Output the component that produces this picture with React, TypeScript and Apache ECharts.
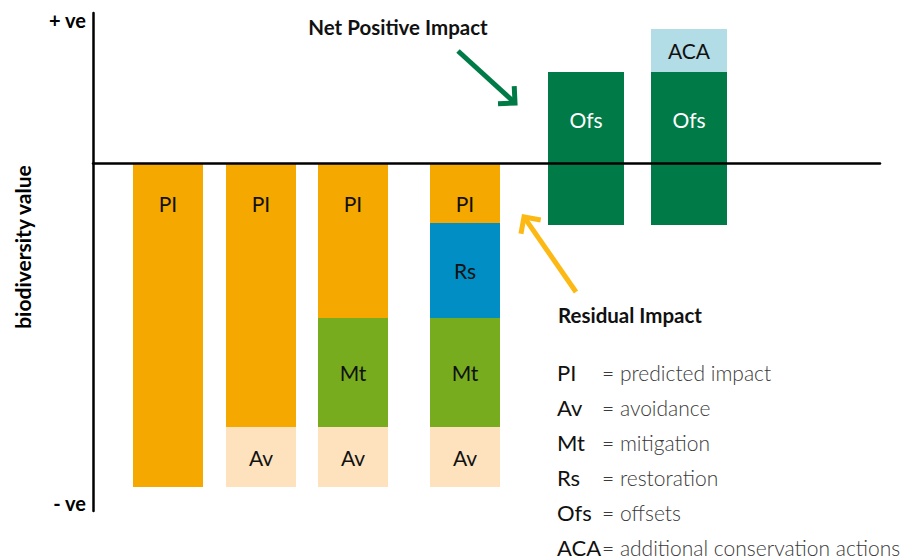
import React, { useEffect, useRef } from "react";
import * as echarts from "echarts";

// ---- data ----
const codes = ["PI", "Av", "Mt", "Rs", "Ofs", "ACA"];
const codeNames = [
  "predicted impact",
  "avoidance",
  "mitigation",
  "restoration",
  "offsets",
  "additional conservation actions",
];
const codeColors = ["#F5A800", "#FDE2BD", "#78AC1F", "#008EC4", "#007A46", "#B2DDE6"];

// x position (value axis units) of each stage column
const stageCenters = [7.5, 16.8, 26.0, 37.2, 49.3, 59.6];

// stacked segments: stage index, code, lower value, upper value
const segStage = [0, 1, 1, 2, 2, 2, 3, 3, 3, 3, 4, 5, 5];
const segCode = ["PI", "PI", "Av", "PI", "Mt", "Av", "PI", "Rs", "Mt", "Av", "Ofs", "Ofs", "ACA"];
const segLow = [-100, -81.5, -100, -47.8, -81.5, -100, -18.5, -47.8, -81.5, -100, -19.1, -19.1, 28.1];
const segHigh = [0, 0, -81.5, 0, -47.8, -81.5, 0, -18.5, -47.8, -81.5, 28.1, 28.1, 41.4];

const FONT = "Lato, 'Noto Sans', sans-serif";

function arrow(x1: number, y1: number, x2: number, y2: number, color: string) {
  const dx = x2 - x1;
  const dy = y2 - y1;
  const len = Math.sqrt(dx * dx + dy * dy);
  const ux = dx / len;
  const uy = dy / len;
  const a = 17;
  const c = Math.cos(Math.PI / 4);
  const s = Math.sin(Math.PI / 4);
  const rx = -ux;
  const ry = -uy;
  const p1 = [x2 + a * (rx * c - ry * s), y2 + a * (rx * s + ry * c)];
  const p2 = [x2 + a * (rx * c + ry * s), y2 + a * (-rx * s + ry * c)];
  return {
    type: "group",
    children: [
      {
        type: "line",
        shape: { x1, y1, x2: x2 - ux * 2, y2: y2 - uy * 2 },
        style: { stroke: color, lineWidth: 5 },
      },
      {
        type: "polyline",
        shape: { points: [p1, [x2, y2], p2] },
        style: { stroke: color, lineWidth: 5, fill: null, lineJoin: "miter" },
      },
    ],
  };
}

export default function App() {
  const ref = useRef<HTMLDivElement>(null);
  useEffect(() => {
    if (!ref.current) return;
    const chart = echarts.init(ref.current, undefined, { renderer: "svg" });

    const legendRows = codes
      .map((c, i) => {
        const y = 372 + i * 35;
        return [
          {
            type: "text",
            x: 557,
            y,
            style: { text: c, font: `22px ${FONT}`, fill: "#111", verticalAlign: "middle" },
          },
          {
            type: "text",
            x: 602,
            y,
            style: {
              text: "= " + codeNames[i],
              font: `300 21px ${FONT}`,
              fill: "#3a3a3a",
              verticalAlign: "middle",
            },
          },
        ];
      })
      .flat();

    const option: any = {
      animation: false,
      grid: { left: 93, right: 32, top: 13, bottom: 48 },
      xAxis: {
        type: "value",
        min: 0,
        max: 78.7,
        z: 10,
        axisLine: { show: true, onZero: true, lineStyle: { color: "#000", width: 2.5 } },
        axisTick: { show: false },
        axisLabel: { show: false },
        splitLine: { show: false },
      },
      yAxis: {
        type: "value",
        min: -107.4,
        max: 46.3,
        axisLine: { show: true, onZero: false, lineStyle: { color: "#000", width: 2.5 } },
        axisTick: { show: false },
        axisLabel: { show: false },
        splitLine: { show: false },
      },
      series: [
        {
          type: "custom",
          encode: { x: 0, y: [1, 2] },
          data: segStage.map((s, i) => [stageCenters[s], segLow[i], segHigh[i]]),
          renderItem: (params: any, api: any) => {
            const i = params.dataIndex;
            const code = segCode[i];
            const ci = codes.indexOf(code);
            const xc = api.value(0);
            const wide = code === "Ofs" || code === "ACA";
            const w = api.size([wide ? 7.6 : 7.0, 0])[0];
            const top = api.coord([xc, api.value(2)]);
            const bot = api.coord([xc, api.value(1)]);
            const zero = api.coord([xc, 0]);
            let ly = (top[1] + bot[1]) / 2;
            if (code === "PI") ly = top[1] + 40;
            if (code === "Ofs") ly = (top[1] + zero[1]) / 2 + 2;
            return {
              type: "group",
              children: [
                {
                  type: "rect",
                  shape: { x: top[0] - w / 2, y: top[1], width: w, height: bot[1] - top[1] },
                  style: { fill: codeColors[ci] },
                },
                {
                  type: "text",
                  x: top[0],
                  y: ly,
                  style: {
                    text: code,
                    font: `21px ${FONT}`,
                    fill: code === "Ofs" ? "#fff" : "#111",
                    align: "center",
                    verticalAlign: "middle",
                  },
                },
              ],
            };
          },
        },
      ],
      graphic: [
        {
          type: "text",
          x: 86,
          y: 20,
          style: { text: "+ ve", font: `bold 20px ${FONT}`, fill: "#000", align: "right", verticalAlign: "middle" },
        },
        {
          type: "text",
          x: 86,
          y: 503,
          style: { text: "- ve", font: `bold 20px ${FONT}`, fill: "#000", align: "right", verticalAlign: "middle" },
        },
        {
          type: "text",
          x: 22,
          y: 247,
          rotation: Math.PI / 2,
          style: {
            text: "biodiversity value",
            font: `bold 21px ${FONT}`,
            fill: "#000",
            align: "center",
            verticalAlign: "middle",
          },
        },
        {
          type: "text",
          x: 398,
          y: 27,
          style: {
            text: "Net Positive Impact",
            font: `bold 20.5px ${FONT}`,
            fill: "#111",
            align: "center",
            verticalAlign: "middle",
          },
        },
        {
          type: "text",
          x: 558,
          y: 315,
          style: {
            text: "Residual Impact",
            font: `bold 20.5px ${FONT}`,
            fill: "#111",
            verticalAlign: "middle",
          },
        },
        arrow(458, 51, 515, 103, "#007A46"),
        arrow(576, 292, 524, 217, "#FDB913"),
        ...legendRows,
      ],
    };
    chart.setOption(option);
    return () => chart.dispose();
  }, []);
  return (
    <div
      ref={ref}
      style={{ position: "fixed", left: 0, top: 0, width: 912, height: 559, background: "#fff" }}
    />
  );
}
